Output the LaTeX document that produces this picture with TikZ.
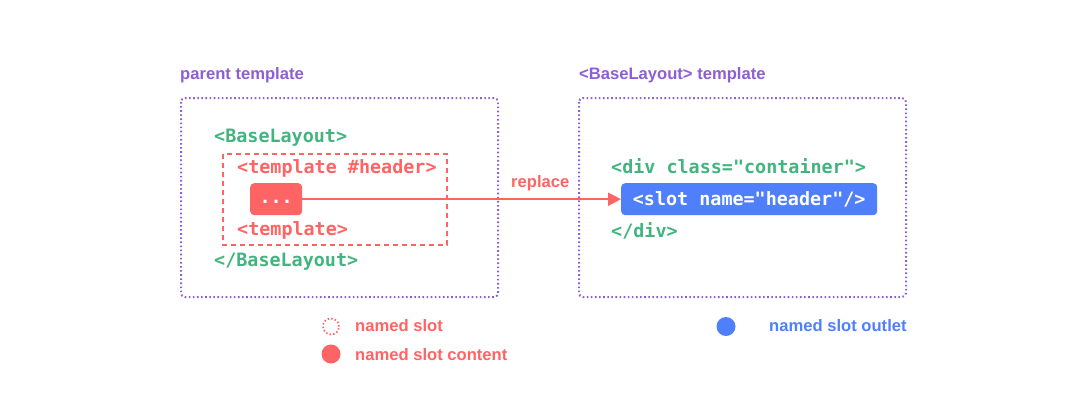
\documentclass[tikz,border=0pt]{standalone}
\usepackage{fontspec}
\setmainfont{Liberation Sans}
\newfontfamily\codefont{DejaVu Sans Mono}
\usetikzlibrary{arrows.meta}
\definecolor{vpurple}{HTML}{8E5ED6}
\definecolor{vgreen}{HTML}{42B47F}
\definecolor{vred}{HTML}{FF6464}
\definecolor{vblue}{HTML}{4F7FFA}
\tikzset{
  lbl/.style={font=\fontsize{16.6}{19}\selectfont\bfseries, inner sep=0pt, anchor=base west},
  code/.style={font=\codefont\fontsize{18.4}{22}\selectfont\bfseries, inner sep=0pt, anchor=base west},
  tplbox/.style={draw=vpurple, line width=2pt, dash pattern=on 1.6pt off 2.5pt, rounded corners=4pt},
  slotbox/.style={draw=vred, line width=2.3pt, dash pattern=on 5pt off 4pt},
}
\begin{document}
\begin{tikzpicture}[x=1pt,y=-1pt]
\useasboundingbox (0,0) rectangle (1079,407);
\fill[white] (0,0) rectangle (1079,407);
% titles
\node[lbl, text=vpurple] (ptitle) at (180,79) {parent template};
\node[lbl, text=vpurple] (btitle) at (579,79) {<BaseLayout> template};
% frames
\draw[tplbox] (181,98) rectangle (498,297);
\draw[tplbox] (579,98) rectangle (906,297);
% left contents
\node[code, text=vgreen] (bl) at (214,142) {<BaseLayout>};
\draw[slotbox] (223,154) rectangle (447,245);
\node[code, text=vred] (th) at (237,173.3) {<template \#header>};
\node[fill=vred, rounded corners=4pt, minimum width=52pt, inner sep=0pt,
      text height=20pt, text depth=12pt,
      text=white, font=\codefont\fontsize{18.4}{22}\selectfont\bfseries,
      anchor=north west] (dots) at (250,183) {...};
\node[code, text=vred] (te) at (237,235) {<template>};
\node[code, text=vgreen] (ble) at (214,266.5) {</BaseLayout>};
% right contents
\node[code, text=vgreen] (div) at (611,173.3) {<div class="container">};
\node[fill=vblue, rounded corners=4pt, minimum width=256pt, inner sep=0pt,
      text height=22pt, text depth=10pt,
      text=white, font=\codefont\fontsize{18.4}{22}\selectfont\bfseries,
      anchor=north west] (slot) at (621,183) {<slot name="header"/>};
\node[code, text=vgreen] (dive) at (611,237.7) {</div>};
% arrow
\draw[vred, line width=2.3pt, -{Triangle[length=13pt,width=13pt]}] (dots.east) -- (dots.east -| slot.west);
\node[lbl, text=vred] (rep) at (511,187) {replace};
% legend
\draw[vred, line width=1.8pt, dash pattern=on 1.4pt off 2.2pt] (331,326.5) circle (8pt);
\node[lbl, text=vred] (l1) at (355,331.7) {named slot};
\fill[vred] (331,354) circle (9.5pt);
\node[lbl, text=vred] (l2) at (355,360) {named slot content};
\fill[vblue] (726,326.5) circle (9.5pt);
\node[lbl, text=vblue] (l3) at (769,331.7) {named slot outlet};
\end{tikzpicture}
\end{document}
